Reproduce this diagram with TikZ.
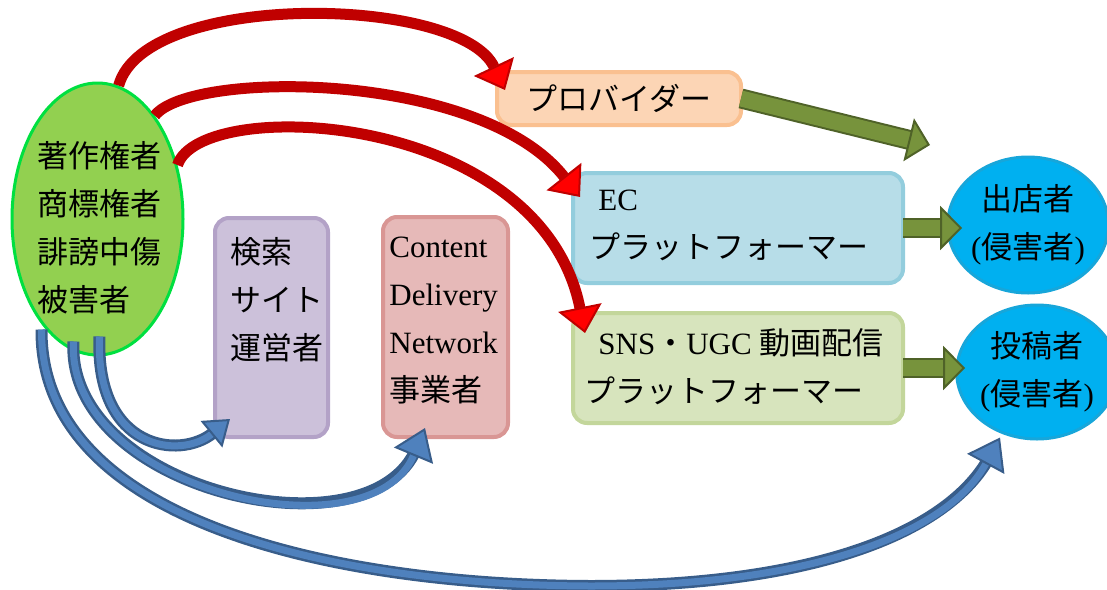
\documentclass[tikz,border=0pt]{standalone}
\usepackage{fontspec}
\setmainfont{Liberation Serif}
\newfontfamily\jp{Noto Sans CJK JP}
\usetikzlibrary{arrows.meta,shapes.geometric}
\definecolor{vicfill}{HTML}{92D050}
\definecolor{vicline}{HTML}{00E040}
\definecolor{srchfill}{HTML}{CCC1DA}
\definecolor{srchline}{HTML}{B3A2C7}
\definecolor{cdnfill}{HTML}{E6B9B8}
\definecolor{cdnline}{HTML}{D99694}
\definecolor{provfill}{HTML}{FCD5B5}
\definecolor{provline}{HTML}{FAC090}
\definecolor{ecfill}{HTML}{B7DDE8}
\definecolor{ecline}{HTML}{93CDDD}
\definecolor{snsfill}{HTML}{D7E4BD}
\definecolor{snsline}{HTML}{C3D69B}
\definecolor{infill}{HTML}{00B0F0}
\definecolor{inline}{HTML}{17A6DA}
\definecolor{gfill}{HTML}{77933C}
\definecolor{gline}{HTML}{4F6228}
\definecolor{bfill}{HTML}{4F81BD}
\definecolor{bline}{HTML}{385D8A}
\definecolor{rshaft}{HTML}{C00000}
\definecolor{rhead}{HTML}{FF0000}
\newcommand\sz{\fontsize{15.5}{24}\selectfont}
\begin{document}
\begin{tikzpicture}[x=0.5pt,y=-0.5pt,
  every node/.style={font=\sz},
  box/.style={rectangle,rounded corners=7pt,line width=2pt,inner sep=0pt,outer sep=0pt},
  txt/.style={inner sep=0pt,align=left,anchor=north west},
  infr/.style={ellipse,draw=inline,fill=infill,line width=1.5pt,inner sep=0pt,align=center},
  redarr/.style={draw=rshaft,line width=5.5pt,
    -{Triangle[length=13pt,width=22pt,fill=rhead,color=rshaft,line width=1pt]}},
  bluearr/.style={draw=bfill,line width=3.5pt,
    -{Triangle[length=15pt,width=21pt,fill=bfill,color=bline,line width=1pt]},
    preaction={draw=bline,line width=6pt,-,shorten >=11pt}},
  greenarr/.style={draw=gfill,line width=8pt,
    -{Triangle[length=11pt,width=22pt,fill=gfill,color=gline,line width=1pt]},
    preaction={draw=gline,line width=10pt,-,shorten >=8pt}}]
\useasboundingbox (0,0) rectangle (1107,589);
\node[ellipse,draw=vicline,fill=vicfill,line width=1.5pt,minimum width=85.5pt,minimum height=136pt] (vict) at (97.5,219) {};
\node[txt,font=\sz\jp] (victt) at (37,141) {著作権者\\商標権者\\誹謗中傷\\被害者};
\node[box,draw=srchline,fill=srchfill,minimum width=56.5pt,minimum height=109.5pt] (srch) at (271.5,327.5) {};
\node[txt,font=\sz\jp] (srcht) at (230,237) {検索\\サイト\\運営者};
\node[box,draw=cdnline,fill=cdnfill,minimum width=62.5pt,minimum height=110pt] (cdn) at (445.5,327) {};
\node[txt] (cdnt) at (389,237) {Content\\Delivery\\Network\\{\jp 事業者}};
\node[box,draw=provline,fill=provfill,minimum width=122pt,minimum height=26.5pt,font=\sz\jp] (prov) at (619,98.5) {プロバイダー};
\node[box,draw=ecline,fill=ecfill,minimum width=165pt,minimum height=55pt] (ec) at (738,228) {};
\node[txt] (ect) at (589,190) {\hspace*{4.5pt}EC\\{\jp プラットフォーマー}};
\node[box,draw=snsline,fill=snsfill,minimum width=165pt,minimum height=55pt] (sns) at (738,368) {};
\node[txt] (snst) at (584,328) {\hspace*{7pt}SNS{\jp ・}UGC {\jp 動画配信}\\{\jp プラットフォーマー}};
\node[infr,minimum width=75pt,minimum height=68pt] (shop) at (1028,225) {{\jp 出店者}\\({\jp 侵害者})};
\node[infr,minimum width=73pt,minimum height=67pt] (post) at (1037,372) {{\jp 投稿者}\\({\jp 侵害者})};
\coordinate (provtip) at (930,145);
\coordinate (shopin) at ([xshift=8pt]shop.west);
\coordinate (postin) at ([xshift=5pt]post.west);
\draw[greenarr] (prov.east) -- (provtip);
\draw[greenarr] (ec.east) -- (ec.east -| shopin);
\draw[greenarr] (sns.east) -- (sns.east -| postin);
\draw[redarr] (vict.81) .. controls (145,-10) and (460,-5) .. ([shift={(8,18)}]prov.north west);
\draw[redarr] (vict.61) .. controls (190,70) and (480,70) .. ([shift={(7,24)}]ec.north west);
\draw[redarr] (vict.34) .. controls (200,95) and (540,110) .. ([shift={(12,20)}]sns.north west);
%\draw[bluearr] (vict.south) -- (srch.south west);
\draw[bluearr,-{Triangle[length=12pt,width=17pt,fill=bfill,color=bline,line width=1pt]}]
  ([shift={(2,-20)}]vict.south) .. controls (95,450) and (180,460) .. ([shift={(15,-18)}]srch.south west);
\draw[bluearr] ([shift={(-24,-15)}]vict.south) .. controls (65,490) and (370,560) .. ([shift={(42,-9)}]cdn.south west);
\draw[bluearr] ([shift={(-56,-27)}]vict.south) .. controls (40,520) and (330,585) .. (590,586)
  .. controls (820,586) and (950,530) .. ([shift={(-37,-3)}]post.south);
\end{tikzpicture}
\end{document}
